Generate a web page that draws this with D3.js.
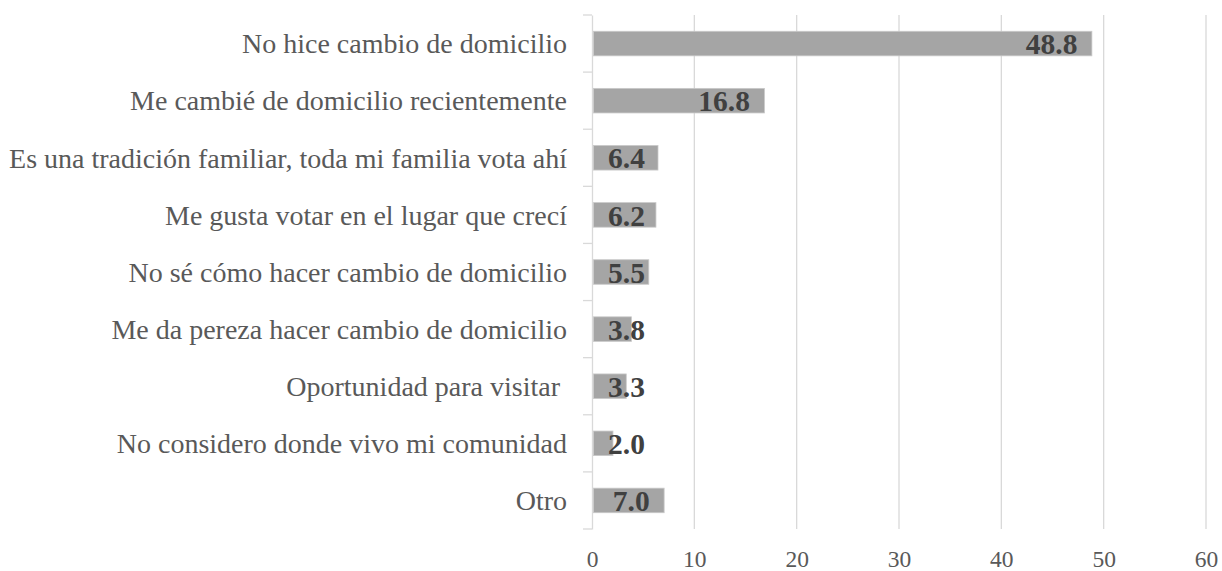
<!DOCTYPE html>
<html><head><meta charset="utf-8">
<script src="https://cdn.jsdelivr.net/npm/d3@7/dist/d3.min.js"></script>
<style>html,body{margin:0;padding:0;background:#fff;}</style>
</head><body>
<svg id="chart" width="1222" height="571"></svg>
<script>
const categories = [
  "No hice cambio de domicilio",
  "Me cambié de domicilio recientemente",
  "Es una tradición familiar, toda mi familia vota ahí",
  "Me gusta votar en el lugar que crecí",
  "No sé cómo hacer cambio de domicilio",
  "Me da pereza hacer cambio de domicilio",
  "Oportunidad para visitar ",
  "No considero donde vivo mi comunidad",
  "Otro"
];
const values = [48.8, 16.8, 6.4, 6.2, 5.5, 3.8, 3.3, 2.0, 7.0];
const xTicks = [0, 10, 20, 30, 40, 50, 60];

const svg = d3.select("#chart");
const m = {left: 592, right: 16, top: 15, bottom: 42};
const W = 1222, H = 571;
const x = d3.scaleLinear().domain([0, 60]).range([m.left, W - m.right]);
const y = d3.scaleBand().domain(categories).range([m.top, H - m.bottom]).padding(0);
const barH = y.bandwidth() * 0.43;

// gridlines
svg.append("g").selectAll("line").data(xTicks.slice(1)).join("line")
  .attr("x1", d => x(d)).attr("x2", d => x(d))
  .attr("y1", m.top).attr("y2", H - m.bottom)
  .attr("stroke", "#d9d9d9").attr("stroke-width", 1.3);

// y axis
const yAxis = d3.axisLeft(y).tickSize(0).tickFormat("");
const gy = svg.append("g").attr("transform", `translate(${m.left},0)`).call(yAxis);
gy.select(".domain").attr("stroke", "#d9d9d9").attr("stroke-width", 1.3);
// boundary ticks between categories
const bounds = categories.map(c => y(c)).concat([y(categories[categories.length-1]) + y.bandwidth()]);
svg.append("g").selectAll("line").data(bounds).join("line")
  .attr("x1", m.left - 9).attr("x2", m.left)
  .attr("y1", d => d).attr("y2", d => d)
  .attr("stroke", "#d9d9d9").attr("stroke-width", 1.3);

// category labels
svg.append("g").selectAll("text").data(categories).join("text")
  .attr("x", m.left - 25)
  .attr("y", d => y(d) + y.bandwidth() / 2)
  .attr("dy", "0.35em")
  .attr("text-anchor", "end")
  .style("white-space", "pre")
  .attr("font-family", "'Liberation Serif', 'Times New Roman', serif")
  .attr("font-size", 28)
  .attr("fill", "#595959")
  .text(d => d);

// bars
svg.append("g").selectAll("rect").data(values).join("rect")
  .attr("x", x(0) + 1.5)
  .attr("y", (d, i) => y(categories[i]) + (y.bandwidth() - barH) / 2)
  .attr("width", d => x(d) - x(0) - 1)
  .attr("height", barH)
  .attr("fill", "#a5a5a5")
  .attr("stroke", "#c9c9c9").attr("stroke-width", 0.8);

// value labels
const vl = svg.append("g").selectAll("text").data(values).join("text")
  .attr("y", (d, i) => y(categories[i]) + y.bandwidth() / 2)
  .attr("dy", "0.36em")
  .attr("text-anchor", "start")
  .attr("font-family", "'Liberation Serif', 'Times New Roman', serif")
  .attr("font-weight", "bold")
  .attr("font-size", 29.5)
  .attr("fill", "#404040")
  .text(d => d.toFixed(1));
vl.each(function(d) {
  const w = this.getComputedTextLength();
  const start = Math.max(x(d) - 14 - w, x(0) + 16);
  d3.select(this).attr("x", start);
});

// x axis labels
const xAxis = d3.axisBottom(x).tickValues(xTicks).tickSize(0).tickPadding(0).tickFormat(d3.format("d"));
const gx = svg.append("g").attr("transform", `translate(0,${H - m.bottom})`).call(xAxis);
gx.select(".domain").remove();
gx.selectAll("text")
  .attr("y", 38).attr("dy", 0)
  .attr("font-family", "'Liberation Serif', 'Times New Roman', serif")
  .attr("font-size", 23.5)
  .attr("fill", "#595959");
</script>
</body></html>
